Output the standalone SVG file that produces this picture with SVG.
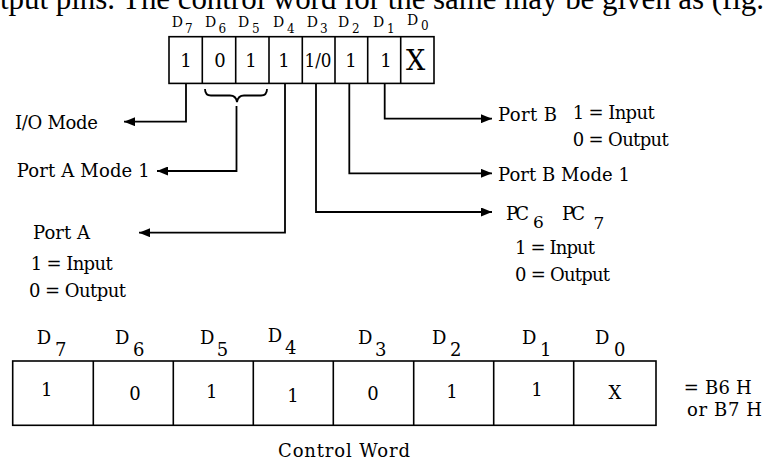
<svg xmlns="http://www.w3.org/2000/svg" width="764" height="462" viewBox="0 0 764 462">
<style>
.t{font-family:"DejaVu Serif","Liberation Serif",serif;font-size:18px;fill:#000}
.s{font-family:"DejaVu Serif","Liberation Serif",serif;font-size:14px;fill:#000}
.ss{font-family:"DejaVu Serif","Liberation Serif",serif;font-size:12px;fill:#000}
.bs{font-family:"DejaVu Serif","Liberation Serif",serif;font-size:17px;fill:#000}
.c{text-anchor:middle}
.box{fill:#fff;stroke:#000;stroke-width:1.6}
.sep{stroke:#000;stroke-width:1.6}
.ln{fill:none;stroke:#000;stroke-width:1.8}
</style>
<defs>
<marker id="ah" viewBox="0 0 11 9" refX="11" refY="4.5" markerWidth="11" markerHeight="9" markerUnits="userSpaceOnUse" orient="auto">
<path d="M0,0 L11,4.5 L0,9 z" fill="#000"/>
</marker>
</defs>
<rect width="764" height="462" fill="#fff"/>
<g id="header">
<text x="0" y="8.5" style="font-family:'Liberation Serif','Times New Roman',serif;font-size:31px" textLength="764" lengthAdjust="spacing">tput pins. The control word for the same may be given as (fig.</text>
</g>
<g id="top-word">
<rect class="box" x="169" y="36.7" width="265" height="46.7"/>
<path class="sep" d="M202.3,36.7V83.3M235.7,36.7V83.3M269,36.7V83.3M302.3,36.7V83.3M335,36.7V83.3M367.7,36.7V83.3M400.7,36.7V83.3"/>
<g class="s"><text x="171.7" y="27">D</text><text x="205" y="27">D</text><text x="238" y="27">D</text><text x="273" y="27">D</text><text x="306.7" y="27">D</text><text x="338" y="27">D</text><text x="373" y="27">D</text><text x="407" y="25">D</text></g>
<g class="ss"><text x="185" y="33">7</text><text x="218.5" y="33">6</text><text x="252" y="33">5</text><text x="287" y="33">4</text><text x="320" y="33">3</text><text x="352" y="33">2</text><text x="387" y="33">1</text><text x="421" y="30">0</text></g>
<g class="t c"><text x="186" y="67">1</text><text x="220" y="67">0</text><text x="251" y="67">1</text><text x="284" y="67">1</text><text x="318" y="67" textLength="27" lengthAdjust="spacingAndGlyphs">1/0</text><text x="351" y="67">1</text><text x="386" y="67">1</text></g>
<text class="t c" x="415.5" y="70" style="font-size:27px">X</text>
</g>
<g id="connectors">
<path class="ln" d="M186,83.3V121.7H124" marker-end="url(#ah)"/>
<path class="ln" d="M205,89Q205,95.5 211,95.5H230Q236,95.5 237,102Q238,95.5 244,95.5H261Q267,95.5 267,89"/>
<path class="ln" d="M236.5,106V171H157" marker-end="url(#ah)"/>
<path class="ln" d="M285,83.3V232.7H139" marker-end="url(#ah)"/>
<path class="ln" d="M316,83.3V212H492" marker-end="url(#ah)"/>
<path class="ln" d="M349.3,83.3V173.3H492" marker-end="url(#ah)"/>
<path class="ln" d="M384.7,83.3V118.7H492" marker-end="url(#ah)"/>
</g>
<g id="io-mode"><text class="t" x="15" y="129" textLength="83">I/O Mode</text></g>
<g id="port-a-mode"><text class="t" x="16.7" y="176.5" textLength="133">Port A Mode 1</text></g>
<g id="port-a">
<text class="t" x="33" y="239" textLength="57">Port A</text>
<text class="t" x="30.7" y="270" textLength="82">1 = Input</text>
<text class="t" x="29" y="297" textLength="97">0 = Output</text>
</g>
<g id="port-b">
<text class="t" x="498" y="121" textLength="59">Port B</text>
<text class="t" x="572.7" y="119" textLength="82">1 = Input</text>
<text class="t" x="572.7" y="146" textLength="96">0 = Output</text>
</g>
<g id="port-b-mode"><text class="t" x="498" y="181" textLength="132">Port B Mode 1</text></g>
<g id="pc67">
<text class="t" x="506" y="220" textLength="23">PC</text>
<text class="bs" x="533" y="228">6</text>
<text class="t" x="562" y="220" textLength="23">PC</text>
<text class="bs" x="593.5" y="229">7</text>
<text class="t" x="515" y="254" textLength="80">1 = Input</text>
<text class="t" x="515" y="281" textLength="95">0 = Output</text>
</g>
<g id="control-word">
<rect class="box" x="12.7" y="361" width="643.3" height="64.3"/>
<path class="sep" d="M93.3,361V425.3M173.3,361V425.3M253.3,361V425.3M333.3,361V425.3M413.7,361V425.3M493.7,361V425.3M573.7,361V425.3"/>
<g class="t"><text x="36.7" y="344">D</text><text x="115" y="344">D</text><text x="200" y="344">D</text><text x="267.7" y="342">D</text><text x="358" y="344">D</text><text x="432" y="344">D</text><text x="522" y="344">D</text><text x="595" y="344">D</text></g>
<g class="t"><text x="55" y="356">7</text><text x="133" y="356">6</text><text x="216.7" y="356">5</text><text x="285" y="353.5">4</text><text x="375" y="356">3</text><text x="450" y="356">2</text><text x="540" y="356">1</text><text x="614" y="356">0</text></g>
<g class="t c"><text x="46.7" y="396">1</text><text x="135" y="400">0</text><text x="211.7" y="398">1</text><text x="293" y="402">1</text><text x="373" y="400">0</text><text x="452" y="398">1</text><text x="537" y="396">1</text><text x="615" y="399">X</text></g>
<text class="t" x="683.7" y="394" textLength="68">= B6 H</text>
<text class="t" x="687" y="416" textLength="75">or B7 H</text>
<text class="t" x="278" y="457" textLength="132">Control Word</text>
</g>
</svg>
